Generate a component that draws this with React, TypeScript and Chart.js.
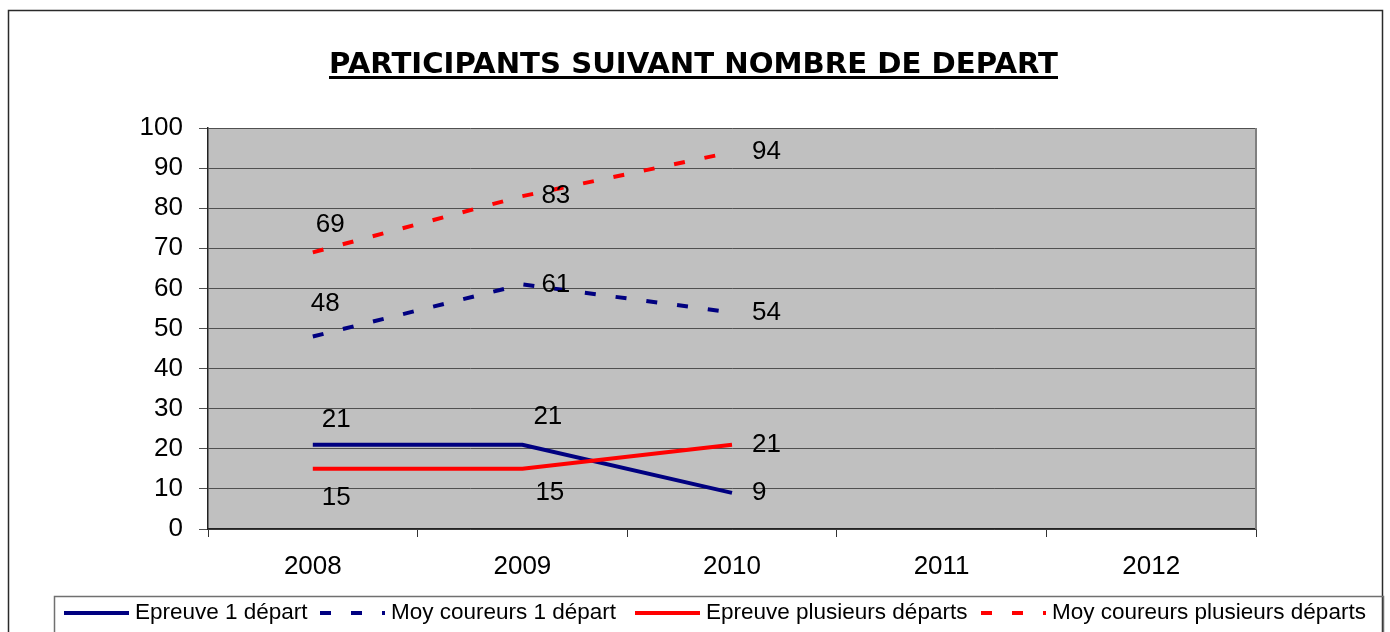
import React, { useEffect, useRef } from 'react';
import { Chart, registerables } from 'chart.js';

Chart.register(...registerables);

const TITLE = 'PARTICIPANTS SUIVANT NOMBRE DE DEPART';
const years = ['2008', '2009', '2010', '2011', '2012'];
const seriesNames = [
  'Epreuve 1 départ',
  'Moy coureurs 1 départ',
  'Epreuve plusieurs départs',
  'Moy coureurs plusieurs départs',
];
const epreuve1 = [21, 21, 9, null, null];
const moy1 = [48, 61, 54, null, null];
const epreuveN = [15, 15, 21, null, null];
const moyN = [69, 83, 94, null, null];
const yMin = 0;
const yMax = 100;
const yStep = 10;

const FONT = '"Liberation Sans", Arial, sans-serif';
const NAVY = '#000080';
const RED = '#FF0000';

// label placement relative to each point: [dx (left edge), dy (vertical centre)]
const labelOffsets = [
  [[9, -25], [11, -28], [20, 0]],
  [[-2, -33], [19, 0], [20, 0]],
  [[9, 29], [13, 24], [20, 0]],
  [[3, -27], [19, 0], [20, 0]],
];

// legend item start positions (layout)
const legendStarts = [64, 320, 635, 981];

const decor = {
  id: 'decor',
  beforeDraw(chart: any) {
    const { ctx, chartArea: a } = chart;
    ctx.save();
    ctx.fillStyle = '#ffffff';
    ctx.fillRect(0, 0, chart.width, chart.height);
    ctx.fillStyle = '#C0C0C0';
    ctx.fillRect(a.left, a.top, a.right - a.left, a.bottom - a.top);
    ctx.strokeStyle = '#2a2a2a';
    ctx.lineWidth = 1.5;
    ctx.strokeRect(8.5, 10.5, 1374, 660);
    ctx.restore();
  },
  beforeDatasetsDraw(chart: any) {
    const { ctx, chartArea: a } = chart;
    ctx.save();
    ctx.strokeStyle = '#808080';
    ctx.lineWidth = 2;
    ctx.beginPath();
    ctx.moveTo(a.right, a.top);
    ctx.lineTo(a.right, a.bottom);
    ctx.stroke();
    ctx.restore();
  },
  afterDatasetsDraw(chart: any) {
    const { ctx } = chart;
    ctx.save();
    ctx.font = `26px ${FONT}`;
    ctx.fillStyle = '#000';
    ctx.textAlign = 'left';
    ctx.textBaseline = 'middle';
    chart.data.datasets.forEach((ds: any, di: number) => {
      const meta = chart.getDatasetMeta(di);
      ds.data.forEach((v: any, i: number) => {
        if (v === null || v === undefined) return;
        const pt = meta.data[i];
        const off = (labelOffsets[di] && labelOffsets[di][i]) || [20, 0];
        ctx.fillText(String(v), pt.x + off[0], pt.y + off[1]);
      });
    });
    ctx.restore();
  },
  afterDraw(chart: any) {
    const { ctx } = chart;
    ctx.save();
    // title
    ctx.font = `bold 29px "DejaVu Sans", sans-serif`;
    ctx.fillStyle = '#000';
    ctx.textBaseline = 'alphabetic';
    ctx.textAlign = 'center';
    const tw = ctx.measureText(TITLE).width;
    const targetW = 729;
    const cx = 693.5;
    ctx.save();
    ctx.translate(cx, 73);
    ctx.scale(targetW / tw, 1);
    ctx.fillText(TITLE, 0, 0);
    ctx.restore();
    ctx.fillRect(cx - targetW / 2, 76, targetW, 3);

    // legend
    ctx.strokeStyle = '#707070';
    ctx.lineWidth = 1.5;
    ctx.strokeRect(54.5, 596.5, 1329, 60);
    ctx.font = `22.5px ${FONT}`;
    ctx.textAlign = 'left';
    ctx.textBaseline = 'middle';
    const ly = 613;
    chart.data.datasets.forEach((ds: any, i: number) => {
      const x = legendStarts[i];
      ctx.save();
      ctx.strokeStyle = ds.borderColor;
      ctx.lineWidth = 4;
      ctx.lineCap = 'butt';
      ctx.setLineDash(ds.borderDash || []);
      ctx.beginPath();
      ctx.moveTo(x, ly);
      ctx.lineTo(x + 65, ly);
      ctx.stroke();
      ctx.restore();
      ctx.fillStyle = '#000';
      ctx.fillText(ds.label, x + 71, ly);
    });
    ctx.restore();
  },
};

export default function App() {
  const ref = useRef<HTMLCanvasElement | null>(null);
  useEffect(() => {
    if (!ref.current) return;
    const dash = [11, 20];
    const mk = (label: string, data: any[], color: string, dashed: boolean, order: number) => ({
      label,
      data,
      borderColor: color,
      backgroundColor: color,
      borderWidth: 4,
      borderDash: dashed ? dash : [],
      pointRadius: 0,
      pointHoverRadius: 0,
      tension: 0,
      fill: false,
      spanGaps: false,
      order,
    });
    const chart = new Chart(ref.current, {
      type: 'line',
      data: {
        labels: years,
        datasets: [
          mk(seriesNames[0], epreuve1, NAVY, false, 4),
          mk(seriesNames[1], moy1, NAVY, true, 3),
          mk(seriesNames[2], epreuveN, RED, false, 2),
          mk(seriesNames[3], moyN, RED, true, 1),
        ],
      },
      options: {
        responsive: false,
        devicePixelRatio: 1,
        animation: false,
        layout: { padding: { left: 0, top: 128, right: 134, bottom: 0 } },
        plugins: {
          legend: { display: false },
          title: { display: false },
          tooltip: { enabled: false },
        },
        scales: {
          x: {
            type: 'category',
            offset: true,
            grid: {
              display: true,
              drawOnChartArea: false,
              drawTicks: true,
              tickLength: 8,
              offset: true,
              color: '#333',
              lineWidth: 1,
            },
            border: { display: true, color: '#222', width: 1.5 },
            ticks: {
              font: { family: FONT, size: 26 },
              color: '#000',
              padding: 14,
              maxRotation: 0,
              autoSkip: false,
            },
            afterFit: (s: any) => {
              s.height = 103;
            },
          },
          y: {
            min: yMin,
            max: yMax,
            grid: { color: '#505050', lineWidth: 1, tickLength: 9 },
            border: { display: true, color: '#222', width: 1.5 },
            ticks: {
              stepSize: yStep,
              font: { family: FONT, size: 26 },
              color: '#000',
              padding: 16,
            },
            afterFit: (s: any) => {
              s.width = 208;
            },
          },
        },
      },
      plugins: [decor],
    } as any);
    return () => chart.destroy();
  }, []);
  return (
    <div style={{ position: 'fixed', left: 0, top: 0, width: 1390, height: 632, background: '#fff' }}>
      <canvas ref={ref} width={1390} height={632} style={{ display: 'block', width: 1390, height: 632 }} />
    </div>
  );
}
